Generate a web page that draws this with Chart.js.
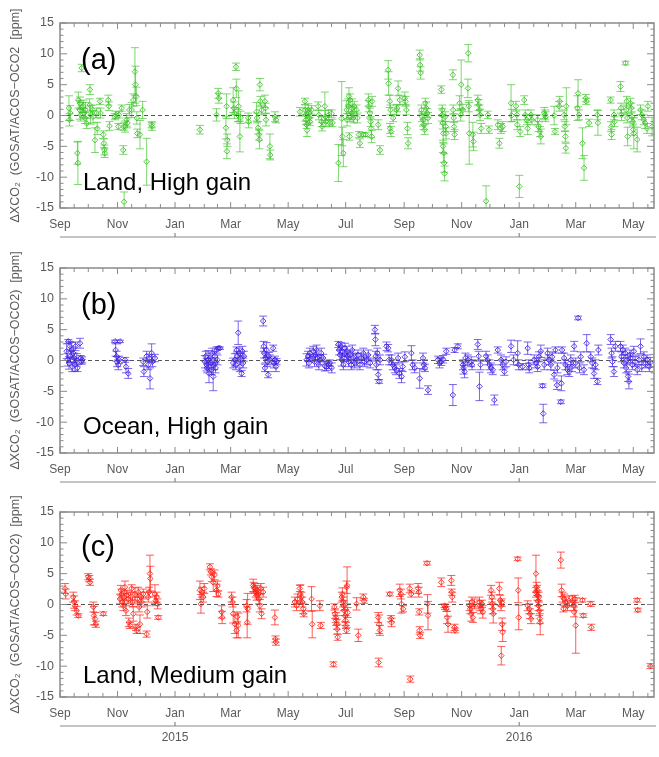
<!DOCTYPE html>
<html>
<head>
<meta charset="utf-8">
<script src="https://cdn.jsdelivr.net/npm/chart.js@4"></script>
<style>
  body { margin: 0; background: #fff; }
  .panel { position: absolute; left: 0; }
</style>
</head>
<body>
<div class="panel" style="top:0px"><canvas id="chartA" width="659" height="245"></canvas></div>
<div class="panel" style="top:245px"><canvas id="chartB" width="659" height="245"></canvas></div>
<div class="panel" style="top:490px"><canvas id="chartC" width="659" height="267"></canvas></div>
<script>
// x values are days since 1 Sep 2014: [day, dXCO2 (ppm), error (ppm)]
const monthTickDays = [0, 61, 122, 181, 242, 303, 365, 426, 487, 547, 608];
const monthTickLabels = ['Sep', 'Nov', 'Jan', 'Mar', 'May', 'Jul', 'Sep', 'Nov', 'Jan', 'Mar', 'May'];
const monthStartDays = [0, 30, 61, 91, 122, 153, 181, 212, 242, 273, 303, 334, 365, 395, 426, 456, 487, 518, 547, 578, 608, 639];
const yearTickDays = [122, 487];
const yearLabels = ['2015', '2016'];

const landHigh = [
  [9.5,1.2,2.0],[10,-0.7,1.0],[11,0.4,1.2],[18.4,-6.1,1.8],[19,-7.7,3.5],
  [19.4,2.5,1.3],[21.2,2.0,1.0],[21,0.9,1.5],[22,0.1,1.0],[23,7.7,0.6],[23.5,1.3,0.8],
  [24.7,1.5,1.0],[25.5,0.4,0.8],[26.5,-0.4,0.9],[28.3,-1.3,0.8],[27,0.9,1.2],
  [31.8,4.2,0.8],[31.5,1.7,1.0],[32.5,0.1,1.5],[34.6,0.9,0.8],[35,-0.2,1.0],
  [37.1,-4.0,2.0],[38.9,0.4,0.8],[39.5,-2.1,1.0],[42.4,2.3,0.5],[43,0.4,0.8],
  [45.9,-3.1,0.6],[46.5,-4.5,0.7],[47,-5.6,0.8],[47.5,-6.1,0.7],
  [51.2,2.5,0.8],[51.8,1.5,0.7],[52.5,-1.7,0.7],[58.3,-0.2,0.5],[59,0.1,0.6],
  [61.8,-1.8,0.5],[62.5,0.1,0.5],[65.4,1.2,0.5],[67.1,-5.6,0.7],[67.5,-1.8,0.6],
  [68,-14.0,1.6],[69,-1.8,0.9],[70.7,-0.7,1.0],[71.5,-1.2,0.8],
  [73.5,0.9,0.9],[76,0.9,1.2],[77.7,2.5,1.0],[79.5,7.1,3.9],[80,5.0,3.0],
  [81,3.1,1.5],[81.5,-0.4,1.0],[82,-2.9,0.7],[84.8,-3.1,2.3],[87.6,0.9,1.4],
  [91.9,-7.5,3.8],[97.2,-1.5,0.5],[97.5,-1.8,0.6],
  [148.4,-2.3,0.7],[166,0.1,1.0],[167.8,3.6,0.8],[168.5,2.8,0.8],
  [176.7,1.5,2.0],[176,-2.0,1.8],[177.5,-4.0,1.0],[177,-5.8,1.2],
  [183.7,2.5,2.0],[184.5,1.2,1.0],[185,0.4,0.9],[186.6,7.9,0.6],[187,4.4,1.5],
  [189,0.0,1.0],[189.5,1.5,2.5],[190.8,-3.4,2.5],[191.5,-0.3,1.0],
  [199.6,-0.4,0.8],[200,-1.0,1.0],[208.5,0.6,1.5],[209,-0.4,0.8],
  [210.2,-2.0,1.0],[211,-3.1,0.9],[211.5,-3.9,1.5],[212,5.0,1.0],[212.5,2.3,0.8],
  [213.8,0.9,0.8],[217.3,2.3,1.0],[218,1.2,0.8],[218.5,-0.7,1.0],
  [222.6,-5.0,2.0],[223,-6.4,0.8],[228,-0.2,0.8],[229,-0.7,0.5],
  [254.4,0.6,0.7],[259.7,2.3,0.5],[260,0.9,0.8],[260.5,0.1,1.0],[261,-0.7,0.8],
  [261.5,-1.5,0.6],[262,-2.4,1.0],[263.3,0.9,1.0],[264,0.4,0.8],[264.5,-0.4,0.8],
  [265,-1.0,0.6],[266.8,0.9,0.7],[273.9,1.5,0.7],[274.5,0.1,0.8],
  [277.4,-1.0,0.8],[278,-1.8,0.7],[280.9,1.5,2.3],[281.5,-0.2,1.0],[282,-1.0,0.8],
  [285,0.1,0.8],[286,-1.2,0.5],[288,0.3,0.6],[289,-1.2,0.6],[295.3,-7.7,3.0],
  [298.8,-0.5,6.0],[299.5,-3.4,1.5],[300.5,-6.1,2.2],
  [304,0.9,1.5],[304.5,-0.7,1.0],[305.8,1.5,1.2],[306.5,3.1,1.4],[307,-3.4,0.6],
  [307.6,2.5,1.0],[308.5,-0.2,0.8],[309.3,0.4,1.0],[310,1.2,1.5],[311.1,-0.4,0.8],[312,1.5,0.8],
  [314.6,0.9,0.8],[315.5,-0.4,0.8],[317,-3.1,0.5],[318.1,-4.5,0.7],
  [321.7,-3.1,0.3],[324,-3.1,0.3],[327,2.5,1.0],[327.5,1.5,0.9],[328.7,0.4,0.8],
  [329.5,-1.0,0.8],[330,-2.1,1.5],[330.5,-3.4,1.0],[331,2.3,0.8],
  [337.5,-1.5,0.8],[339.3,-5.6,0.7],[348.1,7.4,1.5],[348.5,5.2,1.9],[349.8,2.3,1.0],
  [350.5,0.9,0.8],[350,-2.1,0.8],[351,-2.6,0.8],[353.4,-0.4,0.6],
  [356.9,0.9,0.8],[357.5,1.2,0.6],[358.6,4.4,1.2],[360.4,2.5,0.8],
  [365.7,2.8,1.0],[366.5,2.3,0.8],[367.4,0.9,0.8],[368.5,-2.1,1.0],[369.2,-4.5,0.9],
  [381.5,9.8,0.8],[382,8.2,1.0],[382.5,6.9,1.0],[383.3,0.9,0.8],[384,-0.2,0.8],
  [385,-0.7,1.0],[385.5,-1.5,0.8],[386.8,-2.3,0.8],[387.5,2.0,0.8],[388.6,1.2,1.0],
  [389.5,0.4,0.7],[390.3,-0.4,0.9],
  [404.4,4.2,0.6],[405,0.1,1.0],[405.5,0.9,0.8],[406,-1.2,1.0],[406.5,-2.9,1.5],
  [406.2,-5.0,1.0],[407,-6.1,1.5],[407.5,-7.7,1.5],[407.9,-9.4,1.2],[408.5,-0.2,0.8],
  [409,-1.8,0.8],[409.5,-2.9,0.9],
  [416.7,6.6,0.8],[417,0.9,0.8],[417.5,-0.4,0.7],[418,-1.8,0.8],[418.5,-3.1,0.8],
  [423.8,2.0,1.2],[425,0.1,1.0],[425.5,5.0,4.0],[427.3,0.9,0.9],
  [432.6,4.4,1.5],[433,10.1,1.4],[433.5,1.5,0.9],[434,-2.9,5.0],
  [437.9,-3.1,2.0],[438.5,-4.2,1.5],[443.1,2.5,0.8],[444,1.7,0.9],[444.9,0.9,0.8],
  [445.5,0.1,0.9],[446.7,-2.1,0.8],[451.9,-13.9,2.5],[453.7,0.1,0.6],[455,-2.3,0.6],
  [464.3,-1.5,0.8],[466,-4.5,0.8],[467.8,-2.1,0.8],[469.5,-1.8,0.8],
  [478.4,2.0,3.0],[479,0.0,1.0],[483.6,1.5,0.8],[484.5,0.1,0.8],[485,-1.5,0.8],
  [487.2,-11.5,1.8],[488,-2.6,0.8],[492.4,2.5,0.7],[493.5,0.1,0.8],[495,-0.7,0.8],
  [496,-2.1,1.0],[499.5,0.1,0.8],[500.5,-0.7,0.8],
  [506.5,-0.7,0.8],[507.5,-1.8,0.8],[509,-2.6,0.8],[510,-3.4,1.2],
  [513.6,0.4,0.9],[514.5,0.1,0.8],[515,-0.2,0.8],[524.1,0.0,1.5],[525,-2.6,0.5],
  [529.4,1.5,0.8],[530,2.3,0.8],[534.7,0.1,0.8],[535.5,-1.8,0.8],[536,-3.4,0.9],
  [536.5,-5.3,0.8],[537,1.5,3.0],[548.8,1.2,2.0],[549.5,3.6,2.2],[550.5,0.1,0.8],
  [554.1,-4.5,2.5],[555.8,-8.5,2.0],[557.6,2.8,0.6],[558.2,2.3,0.5],[561.1,-1.2,0.6],
  [569.9,0.1,0.8],[570.5,-1.2,2.0],[584,2.5,0.5],[584.5,-1.8,0.8],[585,-3.1,0.8],
  [587.5,0.1,0.8],[588,-1.0,0.8],[594.5,4.7,0.8],[595,1.2,0.8],[595.5,0.1,0.9],
  [599.8,8.5,0.3],[600.5,0.9,0.8],[601,2.3,0.8],[601.6,-0.4,0.8],[602,-3.4,1.5],
  [605.1,2.0,0.8],[606,1.2,0.8],[606.5,-0.2,0.8],[607.5,-1.0,0.7],[608,-2.3,0.9],
  [608.6,-2.9,2.5],[612.2,-3.9,2.0],[615.7,0.9,0.8],[617,0.1,0.8],[619.2,-0.7,0.8],
  [620.5,-1.2,0.9],[622.7,-2.1,0.8],[623.5,1.5,0.8],[628,-1.8,1.5]
];

const oceanHigh = [
  [7.1,1.5,1.2],[8,0.1,1.0],[8.8,3.1,0.3],[9.5,-0.4,1.0],[10.6,2.3,0.8],[11,0.7,1.0],
  [12.4,1.7,1.2],[13,-1.0,0.8],[14.1,1.2,1.0],[15,0.4,0.8],[15.9,-0.7,1.0],[16.5,2.3,0.7],
  [17.7,0.1,1.0],[18.5,-1.2,0.6],[21.2,2.8,0.8],[22,0.4,0.4],[23,-0.2,0.4],[23.5,0.1,0.5],
  [58.3,3.1,0.2],[59,1.7,1.0],[60,0.7,0.8],[60.5,-0.2,0.8],[61.8,-0.7,0.8],[62.5,0.1,0.6],
  [63.6,3.1,0.2],[68.9,0.1,0.4],[70,-1.0,1.0],[72.4,-2.1,0.8],
  [88.3,-0.2,0.6],[89,-1.8,0.8],[91.9,0.7,0.8],[93.6,-0.7,0.8],[94.5,0.4,0.6],
  [95.5,-2.9,1.7],[97.2,1.2,1.5],[98,-0.2,0.8],[100.7,0.4,0.6],
  [153.7,-0.2,1.0],[154.5,0.7,0.8],[155.5,-0.7,1.0],[156.2,-1.2,0.8],[157.2,0.1,1.5],
  [158,-2.1,1.5],[159,0.4,0.8],[160,-0.4,0.8],[160.8,-1.5,0.8],[161.5,1.2,0.8],
  [162.5,-2.6,2.3],[163.5,-0.7,0.8],[164.3,0.7,0.8],[165,-1.2,0.8],[166,1.7,0.5],
  [167,0.1,0.8],[167.8,2.0,0.2],[169.6,2.0,0.2],
  [183.7,-0.4,0.8],[185.5,0.1,1.0],[186.5,-0.7,0.8],[187.3,1.7,0.5],[188,0.7,0.8],
  [189,4.5,1.9],[190,1.2,0.8],[190.8,-1.0,0.8],[191.5,0.4,0.8],[192.6,-2.1,0.5],
  [193.5,1.5,0.8],[194.3,-0.4,0.8],[195,0.7,0.8],
  [215.5,6.4,0.8],[216,2.3,0.8],[216.5,1.2,0.8],[217.3,-1.2,0.6],[218,0.4,0.8],
  [219.1,1.7,1.2],[219.8,-0.2,0.8],[220.8,-2.3,0.5],[221.5,0.7,0.6],[222.6,0.1,0.8],
  [226.1,2.0,0.5],[227,-0.4,0.8],[227.9,0.1,0.6],[229,-1.0,0.8],[229.7,-0.2,0.5],
  [261.5,0.1,1.0],[263,0.7,0.8],[264,-0.4,0.8],[265,1.2,0.8],[266,0.4,0.6],
  [268.6,1.5,0.8],[270,-0.2,0.8],[271,0.9,0.8],[272.1,1.7,0.8],[273,0.4,0.6],
  [274.5,-0.7,0.8],[275.6,0.1,0.8],[277,1.2,0.8],[279.2,0.4,0.6],[281,-0.9,0.8],
  [282.7,-1.0,0.6],
  [284.7,-0.7,0.6],[286,-0.4,0.5],[288.2,-1.2,0.8],
  [295.3,2.6,0.5],[296,1.7,0.8],[297,0.9,0.8],[298,2.3,0.6],[298.8,0.1,1.0],
  [299.5,1.5,0.8],[300.5,-0.7,0.8],[301.5,0.4,0.6],[302.3,2.0,0.8],
  [304,1.5,0.8],[305,0.7,0.8],[306,-0.2,0.8],[307.6,0.9,0.8],[309,-0.7,0.8],
  [310,1.7,0.8],[311.1,0.4,0.8],[312.5,-0.4,0.8],[314.6,0.1,1.0],[316,0.9,0.8],
  [318.1,-0.7,0.8],[319.5,0.4,0.8],[321.7,1.2,0.8],[323,-0.2,0.8],[325.2,0.1,0.8],
  [327,0.9,0.8],[329,-0.4,0.8],
  [334,5.0,0.7],[334.5,3.4,1.0],[335,0.7,0.8],[335.5,-0.7,0.8],[336.5,1.2,0.8],
  [337.5,-2.3,0.8],[338.5,-3.4,0.3],[339.5,0.1,0.8],
  [346.3,2.3,0.7],[348.1,2.0,0.6],[349,0.1,0.8],
  [351.6,0.1,0.8],[353,-0.7,0.8],[355.1,-1.2,0.8],[356.5,-1.5,0.8],[358.6,0.4,0.8],
  [360,-2.1,0.8],[362.2,-2.6,1.0],[363.5,-1.0,0.8],[365.7,0.6,0.8],
  [372.7,1.2,1.2],[374,-0.7,0.8],[376.2,-1.2,0.8],
  [381.5,-2.9,1.6],[385,0.4,0.8],[386,-0.7,0.8],[387,-1.2,0.6],[390.3,-4.8,0.7],
  [400.9,0.1,0.6],[402.5,-0.4,0.8],[404.4,-0.2,0.6],[406.2,0.2,0.6],[409.7,1.5,0.5],
  [416.7,-5.6,1.7],[418.5,1.7,0.4],[422,2.3,0.4],
  [427.3,-0.7,0.8],[428,-1.2,1.0],[429,-1.8,1.0],[430,0.4,0.8],[432.6,0.1,0.8],
  [436.1,-0.2,0.8],[437,-0.7,0.8],
  [443.1,2.6,0.8],[444,0.7,0.8],[444.9,-4.2,2.3],[446,-0.7,0.8],
  [451.9,0.7,0.8],[453.5,0.1,0.8],[455.5,-0.7,0.8],[457,-1.2,0.8],[459,-1.5,0.8],
  [460.7,-6.4,0.8],[464.3,1.7,0.5],[467.8,0.1,0.8],[469.5,-0.7,0.8],[471.3,-1.8,0.6],
  [473.1,-0.2,0.8],[478.4,2.3,1.0],[481,0.1,0.8],[485.4,1.2,2.0],[486.5,-0.7,0.8],
  [490.7,-1.0,0.5],[496,2.0,1.0],[497,-0.7,0.8],[497.7,-1.2,0.8],
  [503,0.1,0.8],[505,-0.4,0.8],[506.5,-1.0,0.8],[508,0.6,0.8],[510,1.5,1.0],
  [511.8,-4.1,0.3],[512.5,-8.6,1.5],[513.6,-0.7,0.8],
  [517.1,1.2,0.8],[518.5,0.1,0.8],[520.6,-0.7,0.8],[522,0.6,0.8],[524.1,-2.3,0.7],
  [525.5,1.7,0.5],[527,-4.0,0.7],[527.6,-1.2,0.8],
  [531.2,-6.7,0.3],[531.8,-3.7,1.2],[532.5,1.7,0.5],
  [534.7,0.4,0.8],[536,-0.7,0.8],[538.2,-1.5,0.8],[540,-1.8,0.8],[541.7,0.1,0.8],
  [543,-1.0,0.8],[545.3,2.3,0.8],[547,-0.4,0.8],[549.5,6.9,0.3],[551,-1.2,0.8],
  [552.3,0.6,0.8],[555.8,-1.5,0.8],[558.6,2.8,1.4],
  [562.9,0.6,0.8],[564.5,-0.4,0.8],[566.4,-2.1,0.8],[568,-0.7,0.8],[569.9,-3.4,0.5],
  [571,1.7,0.8],[584,3.4,0.8],[585,1.2,0.8],[586,-0.2,0.8],[587.5,-1.8,0.8],[589,2.3,0.8],
  [594.5,2.3,0.8],[595.5,0.6,0.8],[597,1.7,0.8],[598.1,-0.4,0.8],[599.5,1.2,0.8],
  [600.5,-1.2,0.8],[601.6,0.1,0.8],[602.5,-2.6,0.8],[603.4,-3.4,1.2],[604.5,0.9,0.8],
  [605.1,0.4,0.8],[607,-0.7,0.8],[608.6,1.5,0.8],[610,-0.2,0.8],[612.2,-1.5,0.8],
  [614,0.1,0.8],[615.7,2.3,1.2],[617,-1.0,0.8],[619.2,0.6,0.8],[621,-0.4,0.8],
  [622.7,0.1,0.8],[625,-1.0,0.8],[626.2,-0.3,0.8]
];

const landMedium = [
  [5.3,2.6,0.8],[6,1.7,0.8],[14.1,1.2,0.8],[15,0.4,1.0],[15.9,-0.2,0.8],[17.7,-1.0,0.7],
  [19.4,-1.8,0.3],[30,4.5,0.5],[31,4.2,0.5],[31.8,3.6,0.5],
  [35.3,-0.4,0.8],[36,-1.8,1.5],[37.1,-2.3,1.0],[38,-3.2,0.5],[45.9,-1.5,0.3],
  [63.6,0.9,0.8],[64.5,2.3,0.8],[65.4,1.7,0.8],[66,0.4,0.8],[67.1,-0.2,0.8],
  [68,1.2,1.0],[68.9,2.8,1.0],[70,-1.0,0.8],[70.7,1.5,0.8],[72.4,0.9,0.8],
  [73,-2.9,0.7],[74.2,-3.4,0.5],[75,1.2,0.8],[76,2.6,0.6],[77,0.4,0.8],
  [77.7,-1.5,1.2],[79.5,1.7,1.0],[80.5,-3.7,0.5],[81.3,-4.2,0.5],[82,0.9,0.8],
  [83,2.0,0.8],[84,-0.4,0.8],[84.8,-3.2,1.5],[86,1.2,0.8],[86.6,0.4,0.8],[88.3,1.7,0.8],
  [91.9,-4.8,0.5],[92.5,-1.2,1.0],[93.6,1.2,0.8],[94.5,2.0,0.8],[95.4,5.0,3.0],[95.8,4.2,2.0],
  [100.7,1.7,1.5],[101.5,0.6,0.8],[102.5,1.2,0.8],[103.5,0.1,0.8],[104.2,-2.1,0.3],
  [148.4,2.3,1.5],[149.5,0.1,1.5],[150.5,2.0,0.8],[151.9,1.2,0.8],[153,2.6,0.8],
  [159,6.1,0.5],[160,5.3,0.5],[161,4.5,0.8],[162.5,3.6,1.5],[164,4.8,0.8],
  [166,2.3,1.0],[167,3.0,0.8],[168,1.7,0.5],[171.4,-1.2,1.0],[172,-2.1,1.0],
  [182,1.2,0.8],[183,0.4,0.8],[183.7,-1.5,1.5],[185.5,-3.2,1.5],[187.3,-4.2,1.2],
  [188,-2.0,0.8],[189,-3.4,2.0],[197.9,-0.2,1.0],[198.5,-2.9,2.5],[199,-0.7,2.5],
  [204.9,3.1,1.0],[205.5,2.8,0.8],[206.7,2.6,0.8],[207.5,2.0,0.8],[208.5,1.5,0.8],
  [209.2,2.3,0.8],[210.2,1.7,0.8],[211,0.9,0.8],[212,-0.2,1.0],[213,2.6,0.8],
  [213.8,-1.5,0.8],[215.5,2.0,0.8],[227.9,-2.1,1.2],[228.5,-5.6,0.5],[229,-6.1,0.5],
  [249.1,0.4,0.8],[250.9,-0.2,0.8],[252,0.9,0.8],[254.4,2.6,0.5],[255,1.7,1.5],
  [256.2,1.2,0.8],[257,0.4,0.8],[258,-0.7,0.8],[258.5,-1.5,0.5],
  [266.8,0.9,2.0],[267.5,-3.2,2.2],[275.6,-0.2,0.8],[276.5,-3.4,0.5],
  [290,-9.7,0.4],[291,-0.4,0.5],[291.7,-1.5,0.8],[292.5,-2.1,0.8],[293,-2.6,0.8],
  [293.5,-3.2,0.8],[294,-4.0,0.8],[294.5,-5.3,0.5],
  [298.8,1.2,0.8],[299.5,1.7,1.0],[300.5,0.4,0.8],[301,-0.2,0.8],[301.5,-1.0,0.8],
  [302.3,-1.8,1.0],[302.8,-2.6,0.8],[303.3,-3.4,0.5],[303.8,-4.2,0.5],[304,2.8,1.0],
  [304.5,3.1,3.0],[305,-1.3,0.8],[314.6,0.1,1.0],[316.4,-5.0,1.0],[321.7,1.2,0.5],[322.5,0.6,0.4],
  [337.5,-2.1,0.8],[338.5,-3.2,1.5],[339.3,-4.2,0.8],[338,-9.4,0.7],
  [349.8,1.7,0.3],[351.6,-2.9,0.7],[351,-2.3,0.5],
  [360.4,2.3,1.0],[361.5,1.7,0.8],[362.2,0.1,1.5],[363.9,-0.7,0.5],
  [371,2.6,0.7],[371.5,-12.1,0.5],[372.5,1.7,0.5],
  [379.8,2.6,0.8],[380.5,2.0,0.8],[381,-1.2,0.5],[381.5,-4.2,0.6],[382,-5.0,0.5],
  [389.3,6.7,0.3],[389.8,0.1,1.5],[390.3,-1.8,2.3],[404.4,3.6,0.7],
  [407.9,-0.2,0.3],[408.5,-0.4,0.4],[409.7,-0.7,0.4],[410.5,-2.1,1.0],[411.5,-3.2,1.3],
  [415,3.9,0.8],[415.5,2.0,0.5],[416,1.2,0.8],[418.5,-3.7,0.5],[419,-4.2,0.4],
  [434.3,-0.2,0.8],[435,-0.7,0.8],[436.1,-1.5,1.2],[437,0.4,0.8],[437.9,-2.1,0.8],[439.6,0.1,0.8],
  [444.9,0.4,0.8],[445.5,-0.2,0.8],[446.7,-0.7,0.8],[448.4,-1.2,1.0],[447.5,0.1,0.6],
  [457.2,2.3,0.8],[458,1.2,0.8],[458.5,0.1,0.8],[459,-0.7,0.8],[459.5,-1.5,1.5],
  [466,2.6,1.0],[467,0.7,0.8],[467.8,-0.2,0.8],[468.5,0.3,0.6],[469,-3.2,1.0],
  [469.5,-4.5,1.5],[468,-8.3,1.5],
  [485.4,7.4,0.3],[486,2.3,2.0],[486.5,-2.1,2.0],
  [496,-0.2,0.8],[497.7,-0.7,0.8],[498.5,-1.5,0.8],[499.5,-2.3,0.8],
  [504.8,5.0,3.0],[505.5,2.8,0.8],[506,2.3,0.8],[506.5,1.5,0.8],[507,0.6,0.8],
  [507.5,-0.2,0.8],[508.3,-1.0,0.8],[508.8,-2.3,0.8],[509.3,-2.9,2.0],[505,2.0,0.8],[507.8,1.2,0.8],
  [531.2,7.2,1.3],[532,2.3,1.0],[533,1.2,0.8],[534,-0.7,0.5],
  [534.7,0.9,0.8],[536,0.4,0.8],[538.2,-0.2,0.8],[540,0.6,0.8],
  [543.5,0.6,0.8],[545,-0.2,0.8],[545.3,-1.2,0.8],[547,-3.4,4.5],[546,0.9,0.6],
  [554.1,0.7,0.3],[555,-1.8,0.3],[562.9,0.1,0.4],[563.5,-3.7,0.5],
  [612.2,0.7,0.3],[612.8,-0.9,0.3],[626.2,-10.0,0.4]
];

const axisColor = '#8a8a8a';
const labelColor = '#5a5a5a';

// error bars and dashed zero line, drawn under the markers
const errorBars = {
  id: 'errorBars',
  beforeDatasetsDraw(chart, args, opts) {
    const { ctx, chartArea: a, scales: { x, y } } = chart;
    ctx.save();
    ctx.beginPath();
    ctx.rect(a.left, a.top, a.right - a.left, a.bottom - a.top);
    ctx.clip();
    ctx.strokeStyle = opts.color;
    ctx.lineWidth = 1;
    chart.data.datasets[0].data.forEach(p => {
      const px = x.getPixelForValue(p.x);
      const top = y.getPixelForValue(p.y + p.err);
      const bot = y.getPixelForValue(p.y - p.err);
      ctx.beginPath();
      ctx.moveTo(px, top); ctx.lineTo(px, bot);
      ctx.moveTo(px - 4, top); ctx.lineTo(px + 4, top);
      ctx.moveTo(px - 4, bot); ctx.lineTo(px + 4, bot);
      ctx.stroke();
    });
    const y0 = y.getPixelForValue(0);
    ctx.strokeStyle = '#555';
    ctx.setLineDash([4, 3]);
    ctx.beginPath();
    ctx.moveTo(a.left, y0); ctx.lineTo(a.right, y0);
    ctx.stroke();
    ctx.restore();
  }
};

// IDL-style frame with inward ticks, panel labels and the year axis
const frame = {
  id: 'frame',
  afterDraw(chart, args, opts) {
    const { ctx, chartArea: a, scales: { x, y } } = chart;
    ctx.save();
    ctx.strokeStyle = axisColor;
    ctx.lineWidth = 1.5;
    ctx.strokeRect(a.left, a.top, a.right - a.left, a.bottom - a.top);
    ctx.lineWidth = 1;
    ctx.beginPath();
    for (let i = 0; i < monthStartDays.length; i++) {
      const d = monthStartDays[i];
      const ticks = [d];
      if (i + 1 < monthStartDays.length) ticks.push((d + monthStartDays[i + 1]) / 2);
      ticks.forEach(t => {
        if (t > x.max) return;
        const px = x.getPixelForValue(t);
        const len = monthTickDays.includes(t) ? 6 : 4;
        ctx.moveTo(px, a.bottom); ctx.lineTo(px, a.bottom - len);
        ctx.moveTo(px, a.top); ctx.lineTo(px, a.top + len);
      });
    }
    for (let v = -15; v <= 15; v++) {
      const py = y.getPixelForValue(v);
      const len = v % 5 === 0 ? 7 : 3.5;
      ctx.moveTo(a.left, py); ctx.lineTo(a.left + len, py);
      ctx.moveTo(a.right, py); ctx.lineTo(a.right - len, py);
    }
    ctx.stroke();

    // year axis under the month labels
    const yb = a.bottom + 29;
    ctx.lineWidth = 1.2;
    ctx.beginPath();
    ctx.moveTo(a.left, yb); ctx.lineTo(a.right + 2, yb);
    yearTickDays.forEach(d => {
      const px = x.getPixelForValue(d);
      ctx.moveTo(px, yb); ctx.lineTo(px, yb - 4);
    });
    ctx.stroke();
    if (opts.years) {
      ctx.fillStyle = labelColor;
      ctx.font = '12px "Liberation Sans", Arial, sans-serif';
      ctx.textAlign = 'center';
      ctx.textBaseline = 'middle';
      yearTickDays.forEach((d, i) => ctx.fillText(yearLabels[i], x.getPixelForValue(d), yb + 12));
    }

    ctx.fillStyle = '#000';
    ctx.textAlign = 'left';
    ctx.textBaseline = 'alphabetic';
    ctx.font = '29px "Liberation Sans", Arial, sans-serif';
    ctx.fillText(opts.tag, a.left + 21, a.top + opts.tagY);
    ctx.font = '24px "Liberation Sans", Arial, sans-serif';
    ctx.fillText(opts.text, a.left + 23, a.top + opts.textY);
    ctx.restore();
  }
};

function makePanel(id, rows, color, fill, title, label, xHeight) {
  return new Chart(document.getElementById(id), {
    type: 'scatter',
    data: {
      datasets: [{
        data: rows.map(r => ({ x: r[0], y: r[1], err: r[2] })),
        pointStyle: 'rectRot',
        pointRadius: 2.8,
        borderWidth: 1,
        borderColor: color,
        backgroundColor: 'rgba(0,0,0,0)'
      }]
    },
    options: {
      responsive: false,
      animation: false,
      layout: { padding: { top: label.top, right: 4, left: 0, bottom: 0 } },
      plugins: {
        legend: { display: false },
        tooltip: { enabled: false },
        errorBars: { color: fill },
        frame: label
      },
      scales: {
        x: {
          type: 'linear',
          min: 0,
          max: 630,
          grid: { display: false, drawTicks: false },
          border: { display: false },
          afterBuildTicks: s => { s.ticks = monthTickDays.map(v => ({ value: v })); },
          afterFit: s => { s.height = xHeight; },
          ticks: {
            autoSkip: false,
            maxRotation: 0,
            padding: 9,
            color: labelColor,
            font: { family: '"Liberation Sans", Arial, sans-serif', size: 12 }
          ,
            callback: v => monthTickLabels[monthTickDays.indexOf(v)]
          }
        },
        y: {
          min: -15,
          max: 15,
          grid: { display: false, drawTicks: false },
          border: { display: false },
          afterFit: s => { s.width = 60; },
          ticks: {
            stepSize: 5,
            padding: 6,
            color: labelColor,
            font: { family: '"Liberation Sans", Arial, sans-serif', size: 12.5 }
          },
          title: {
            display: true,
            text: title,
            color: labelColor,
            padding: { top: 8, bottom: 0 },
            font: { family: '"Liberation Sans", "DejaVu Sans", sans-serif', size: 12.5 }
          }
        }
      }
    },
    plugins: [errorBars, frame]
  });
}

makePanel('chartA', landHigh, 'rgba(60,190,40,0.85)', 'rgba(70,200,50,0.7)',
  'ΔXCO₂  (GOSAT/ACOS−OCO2  [ppm]',
  { top: 23, tag: '(a)', tagY: 46, text: 'Land, High gain', textY: 167, years: false }, 37);
makePanel('chartB', oceanHigh, 'rgba(60,30,225,0.85)', 'rgba(70,40,230,0.7)',
  'ΔXCO₂  (GOSAT/ACOS−OCO2)  [ppm]',
  { top: 23, tag: '(b)', tagY: 46, text: 'Ocean, High gain', textY: 166, years: false }, 37);
makePanel('chartC', landMedium, 'rgba(250,30,20,0.85)', 'rgba(255,40,30,0.75)',
  'ΔXCO₂  (GOSAT/ACOS−OCO2)  [ppm]',
  { top: 22, tag: '(c)', tagY: 44, text: 'Land, Medium gain', textY: 171, years: true }, 60);
</script>
</body>
</html>
